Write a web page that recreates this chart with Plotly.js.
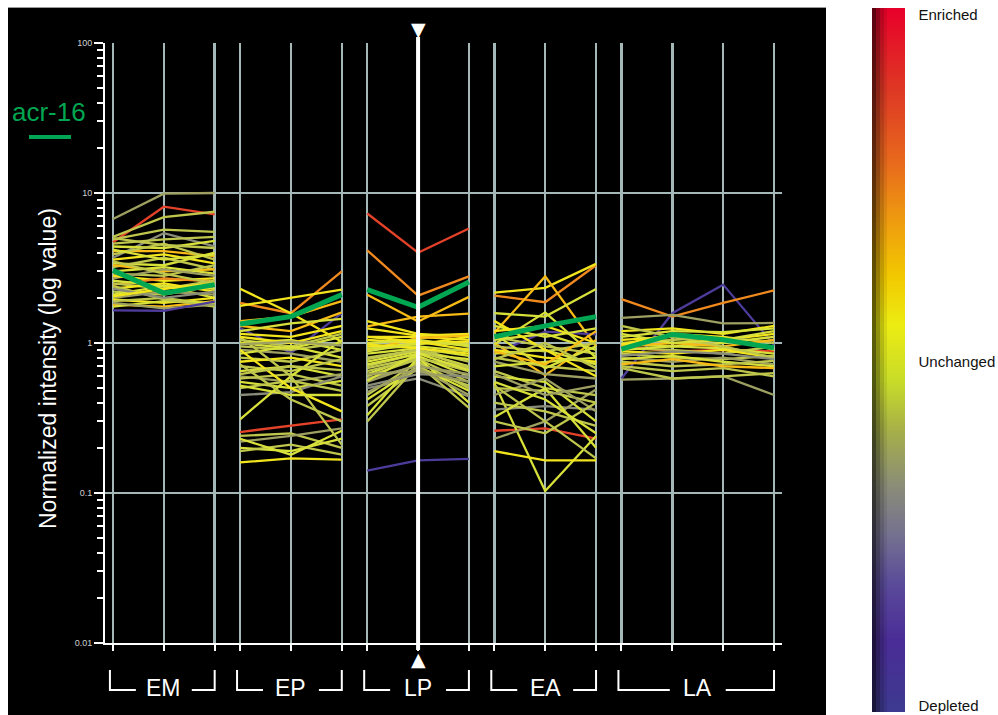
<!DOCTYPE html>
<html><head><meta charset="utf-8">
<script src="https://cdn.plot.ly/plotly-3.0.1.min.js"></script>
<style>body{margin:0;background:#fff}#chart{width:998px;height:715px}</style>
</head><body><div id="chart"></div>
<script>
// ---------- DATA ----------
const groups = ['EM', 'EP', 'LP', 'EA', 'LA'];
const groupX = [[0, 1, 2], [2.5, 3.5, 4.5], [5, 6, 7], [7.5, 8.5, 9.5], [10, 11, 12, 13]];
const yTickVals = [0.01, 0.1, 1, 10, 100];
const yTickText = ['0.01', '0.1', '1', '10', '100'];

const EM_values = [
  [6.7, 9.9, 10.0], [4.7, 8.1, 7.2], [5.1, 6.9, 7.5], [4.9, 5.7, 5.5], [3.7, 5.4, 4.4],
  [4.6, 4.9, 5.1], [4.1, 4.1, 3.8], [4.4, 4.3, 4.8], [3.9, 4.6, 3.6], [3.6, 3.9, 3.4],
  [3.4, 3.3, 4.0], [3.2, 3.7, 3.1], [3.3, 3.0, 3.1], [3.0, 3.2, 2.9], [2.9, 2.8, 3.3],
  [2.7, 3.1, 2.8], [2.8, 2.6, 2.7], [2.45, 2.7, 2.57], [2.6, 2.4, 2.3], [2.5, 2.3, 2.6],
  [2.3, 2.5, 2.2], [2.2, 2.1, 2.4], [2.1, 2.4, 2.0], [2.0, 2.2, 2.1], [1.95, 1.85, 2.0],
  [1.9, 2.0, 1.8], [1.8, 1.75, 1.9], [1.75, 1.9, 1.85], [2.4, 1.95, 1.75], [1.85, 1.7, 1.8],
  [1.65, 1.64, 1.89], [3.5, 2.9, 2.5], [4.2, 3.6, 3.9], [2.3, 2.0, 2.2], [2.05, 2.3, 2.5],
  [5.0, 4.5, 4.3]
];
const EM_colors = ['K','R','G','G','N','G','A','L','G','Y','L','G','A','L','G','K','Y','O','L','G',
  'Y','G','L','K','Y','G','A','L','G','K','P','G','L','N','Y','G'];

const EP_values = [
  [1.85, 1.58, 3.0], [2.3, 1.58, 1.02], [1.77, 2.0, 2.27], [1.26, 0.86, 1.58], [1.4, 1.5, 1.9],
  [1.3, 1.2, 1.6], [1.2, 1.35, 1.45], [1.15, 1.1, 1.3], [1.05, 0.95, 1.15], [1.0, 1.05, 0.9],
  [0.95, 0.9, 1.0], [0.9, 0.85, 0.75], [0.85, 0.95, 0.8], [0.8, 0.75, 0.9], [0.75, 0.8, 0.7],
  [0.7, 0.65, 0.78], [0.65, 0.7, 0.6], [0.6, 0.55, 0.62], [0.58, 0.62, 0.52], [0.55, 0.5, 0.56],
  [0.45, 0.47, 0.6], [0.5, 0.56, 0.48], [0.31, 0.6, 1.05], [0.255, 0.28, 0.31], [0.16, 0.17, 0.167],
  [0.24, 0.25, 0.2], [0.22, 0.24, 0.27], [0.2, 0.19, 0.23], [0.19, 0.21, 0.18], [0.23, 0.18, 0.26],
  [1.1, 0.6, 0.21], [0.9, 0.5, 0.35], [0.52, 0.45, 0.45], [0.62, 0.7, 0.66], [1.0, 0.92, 1.1],
  [0.72, 0.42, 0.3], [1.1, 1.0, 1.2], [0.98, 1.02, 0.96]
];
const EP_colors = ['O','Y','Y','P','A','A','L','Y','G','L','G','K','L','G','Y','G','L','K','G','L',
  'N','G','L','R','Y','G','K','L','G','L','G','Y','L','G','L','G','Y','K'];

const LP_values = [
  [7.3, 4.0, 5.8], [4.15, 2.07, 2.78], [2.1, 1.39, 2.03], [1.29, 1.5, 1.57], [0.141, 0.165, 0.169],
  [1.4, 1.15, 1.1], [1.25, 1.12, 1.15], [1.1, 1.1, 1.05], [0.9, 1.08, 1.12], [1.05, 1.0, 1.02],
  [1.0, 1.05, 0.95], [0.95, 0.98, 1.1], [0.92, 0.95, 0.88], [0.85, 0.92, 0.82], [0.8, 0.9, 0.75],
  [0.75, 0.88, 0.7], [0.7, 0.85, 0.92], [0.68, 0.8, 0.65], [0.62, 0.82, 0.6], [0.6, 0.78, 0.55],
  [0.55, 0.72, 0.58], [0.5, 0.58, 0.44], [0.45, 0.75, 0.5], [0.42, 0.7, 0.48], [0.38, 0.68, 0.52],
  [0.33, 0.8, 0.4], [0.3, 0.72, 0.37], [0.58, 0.7, 0.62], [0.52, 0.62, 0.6], [0.72, 0.85, 0.78],
  [0.98, 0.92, 0.85], [0.65, 0.78, 0.7], [0.47, 0.68, 0.45], [0.88, 1.0, 0.98], [1.1, 1.02, 0.9],
  [0.78, 0.9, 0.68], [0.56, 0.85, 0.66], [0.62, 0.65, 0.55]
];
const LP_colors = ['R','O','A','A','P','Y','Y','Y','A','Y','L','Y','L','L','G','L','G','G','L','G',
  'K','N','G','L','G','L','G','K','N','L','Y','G','K','L','Y','G','L','K'];

const EA_values = [
  [2.07, 1.87, 3.3], [2.17, 2.33, 3.37], [1.17, 2.78, 0.95], [1.58, 1.5, 2.29], [0.85, 1.19, 1.14],
  [0.26, 0.27, 0.23], [0.54, 0.103, 0.24], [0.19, 0.165, 0.165], [1.0, 0.61, 1.05], [0.36, 0.38, 0.36],
  [0.23, 0.3, 0.49], [1.3, 1.1, 1.25], [1.2, 1.3, 1.0], [1.1, 0.95, 0.85], [1.05, 1.15, 0.9],
  [0.95, 0.88, 1.0], [0.9, 0.8, 0.75], [0.85, 0.9, 0.72], [0.8, 0.7, 0.65], [0.75, 0.62, 0.58],
  [0.7, 0.75, 0.8], [0.65, 0.5, 0.45], [0.6, 0.55, 0.3], [0.5, 0.48, 0.4], [0.45, 0.58, 0.35],
  [0.4, 0.35, 0.28], [0.32, 0.5, 0.2], [0.52, 0.3, 0.17], [1.4, 0.9, 0.6], [0.98, 1.6, 0.8],
  [0.3, 0.25, 0.4], [0.62, 0.45, 0.52], [1.15, 0.68, 0.95], [0.88, 0.72, 1.2], [0.78, 1.0, 0.68],
  [0.55, 0.42, 0.25]
];
const EA_colors = ['O','Y','A','L','P','R','L','Y','A','N','K','L','Y','G','L','G','Y','L','G','K',
  'L','G','L','G','K','G','L','G','Y','L','G','K','L','A','G','L'];

const LA_values = [
  [0.58, 1.58, 2.45, 0.97], [1.96, 1.5, 1.85, 2.24], [1.47, 1.54, 1.35, 1.36], [0.57, 0.58, 0.6, 0.45],
  [0.68, 0.58, 0.6, 0.63], [0.95, 0.88, 0.9, 0.88], [1.2, 1.25, 1.15, 1.3], [1.1, 1.2, 1.18, 1.25],
  [1.05, 1.1, 1.05, 1.15], [1.0, 1.05, 1.1, 1.0], [0.98, 0.95, 1.0, 1.1], [0.95, 1.0, 0.95, 1.05],
  [0.92, 0.9, 0.85, 0.95], [0.9, 0.95, 0.92, 0.85], [0.88, 0.85, 0.9, 0.8], [0.85, 0.8, 0.78, 0.82],
  [0.8, 0.75, 0.8, 0.72], [0.78, 0.82, 0.75, 0.7], [0.75, 0.7, 0.72, 0.76], [0.72, 0.78, 0.7, 0.68],
  [1.3, 1.1, 0.95, 0.8], [1.15, 1.0, 1.05, 1.2], [0.98, 1.15, 1.1, 0.9], [0.7, 0.65, 0.68, 0.6],
  [0.82, 0.88, 0.85, 0.78]
];
const LA_colors = ['P','O','K','K','G','R','Y','L','Y','G','L','A','G','L','Y','G','K','L','G','A',
  'G','L','Y','G','N'];

const acr16_values = [[3.05, 2.15, 2.45], [1.34, 1.5, 2.1], [2.27, 1.73, 2.55], [1.1, 1.3, 1.5], [0.91, 1.14, 1.05, 0.93]];
const highlightName = 'acr-16';
const colorLabels = ['Depleted', 'Unchanged', 'Enriched'];
const colorLabelVals = [0.009, 0.497, 0.991];

// ---------- STYLE ----------
const palette = {R:'#e5422a', O:'#f08a1e', A:'#f8bb16', Y:'#f3e51c', L:'#d8e03a', G:'#bfc64c',
                 K:'#9ea062', N:'#8a8c7a', P:'#4e3c9c'};
const colorscale = [[0,'#3d3a8f'],[0.1,'#4a2c96'],[0.18,'#5a4a9a'],[0.25,'#747090'],[0.32,'#8a8c78'],
  [0.4,'#a6b048'],[0.47,'#c8dc28'],[0.55,'#ecec12'],[0.62,'#f2c800'],[0.7,'#ee9a10'],
  [0.78,'#e86a1c'],[0.88,'#de3a24'],[1,'#e8002a']];
const green = '#00a651';
const gridColor = '#a5b8b8';

// geometry helpers (plot area: x 105..782, y 43..643)
const L = 105, R = 782, T = 43, B = 643;
const px = v => (v - L) / (R - L);
const py = v => (B - v) / (B - T);

const allVals = [EM_values, EP_values, LP_values, EA_values, LA_values];
const allCols = [EM_colors, EP_colors, LP_colors, EA_colors, LA_colors];

const traces = [];
allVals.forEach((set, g) => {
  set.forEach((vals, i) => {
    traces.push({type:'scatter', mode:'lines', x: groupX[g], y: vals,
      line:{color: palette[allCols[g][i]], width: 2.3}, hoverinfo:'skip', showlegend:false});
  });
});
acr16_values.forEach((vals, g) => {
  traces.push({type:'scatter', mode:'lines', x: groupX[g], y: vals, name: highlightName,
    line:{color: green, width: 5}, hoverinfo:'skip', showlegend:false});
});
// colour bar carrier
traces.push({type:'scatter', mode:'markers', x:[-50,-50], y:[1,1], hoverinfo:'skip', showlegend:false,
  marker:{color:[0,1], cmin:0, cmax:1, colorscale: colorscale, showscale:true, size:1,
    colorbar:{xref:'paper', yref:'paper', x:px(872), xanchor:'left', y:py(712), yanchor:'bottom',
      lenmode:'pixels', len:704, thicknessmode:'pixels', thickness:33, outlinewidth:0, xpad:0, ypad:0,
      tickmode:'array', tickvals: colorLabelVals, ticktext: colorLabels, ticks:'outside', ticklen:11,
      tickcolor:'rgba(0,0,0,0)', tickfont:{size:15, color:'#111', family:'Liberation Sans, Arial, sans-serif'}}}});

const minorVals = [];
[0.01, 0.1, 1, 10].forEach(d => { for (let k = 2; k <= 9; k++) minorVals.push(+(d * k).toPrecision(3)); });
const allX = [].concat(...groupX);

const shapes = [
  {type:'rect', xref:'paper', yref:'paper', x0:px(8), x1:px(826), y0:py(715), y1:py(8), fillcolor:'#000', line:{width:0}, layer:'below'},
  {type:'line', xref:'paper', yref:'paper', x0:px(8), x1:px(826), y0:py(7.5), y1:py(7.5), line:{color:'#9a9a9a', width:1}},
  {type:'line', xref:'x', yref:'paper', x0:6, x1:6, y0:py(650), y1:py(37), line:{color:'#fff', width:4}},
  {type:'line', xref:'paper', yref:'paper', x0:px(29), x1:px(71), y0:py(137), y1:py(137), line:{color:green, width:4}}
];
const C = {xanchor:'center', yanchor:'middle', showarrow:false};
const annotations = [
  Object.assign({xref:'x', yref:'paper', x:6, y:py(29), text:'▼', font:{size:19, color:'#fff', family:'DejaVu Sans'}}, C),
  Object.assign({xref:'x', yref:'paper', x:6, y:py(659), text:'▲', font:{size:19, color:'#fff', family:'DejaVu Sans'}}, C),
  Object.assign({xref:'paper', yref:'paper', x:px(49), y:py(112), text:highlightName, font:{size:26, color:green}}, C),
  Object.assign({xref:'paper', yref:'paper', x:px(48), y:py(369), text:'Normalized intensity (log value)', textangle:-90, font:{size:23, color:'#fff'}}, C)
];
// soft dark shading along the colour bar's left edge
[[872, 4, 0.6], [876, 4, 0.38], [880, 4, 0.2], [884, 3, 0.08]].forEach(([x0, w, a]) => {
  annotations.push({xref:'paper', yref:'paper', x:px(x0), y:py(360), xanchor:'left', yanchor:'middle',
    text:' ', width:w, height:704, borderpad:0, borderwidth:0, bgcolor:`rgba(0,0,0,${a})`, showarrow:false, font:{size:1}});
});
const yTop = py(670), yBot = py(690);
groups.forEach((gname, g) => {
  const xs = groupX[g];
  const a = xs[0] - 0.06, b = xs[xs.length - 1], c = (xs[0] + xs[xs.length - 1]) / 2;
  const lw = {color:'#fff', width:2};
  shapes.push({type:'path', xref:'x', yref:'paper',
    path:`M ${a} ${yTop} L ${a} ${yBot} L ${c - 0.55} ${yBot}`, line:lw});
  shapes.push({type:'path', xref:'x', yref:'paper',
    path:`M ${c + 0.55} ${yBot} L ${b} ${yBot} L ${b} ${yTop}`, line:lw});
  annotations.push(Object.assign({xref:'x', yref:'paper', x:c, y:py(688), text:gname,
    font:{size:23, color:'#fff', family:'Liberation Sans Narrow, Arial Narrow, Liberation Sans, sans-serif'}}, C));
});

const layout = {
  width:998, height:715, margin:{l:L, r:998 - R, t:T, b:715 - B, autoexpand:false},
  paper_bgcolor:'#fff', plot_bgcolor:'#000',
  font:{family:'Liberation Sans, Arial, sans-serif'},
  showlegend:false,
  xaxis:{range:[-0.157, 13.157], tickmode:'array', tickvals: allX, ticks:'outside', ticklen:6, tickwidth:2,
    tickcolor:'#fff', showticklabels:false, showgrid:true, gridcolor:gridColor, gridwidth:2.5,
    zeroline:false, showline:true, linecolor:'#fff', linewidth:2, fixedrange:true, automargin:false},
  yaxis:{type:'log', range:[-2, 2], tickmode:'array', tickvals:yTickVals, ticktext:yTickText, ticks:'outside',
    ticklen:9, tickwidth:2, tickcolor:'#fff', showgrid:true, gridcolor:gridColor, gridwidth:2.5,
    showline:true, linecolor:'#fff', linewidth:2, zeroline:false, fixedrange:true, automargin:false,
    tickfont:{size:9, color:'#d0d0d0'},
    minor:{tickmode:'array', tickvals:minorVals, ticks:'outside', ticklen:6, tickwidth:2, tickcolor:'#fff', showgrid:false}},
  shapes: shapes, annotations: annotations
};
Plotly.newPlot('chart', traces, layout, {displayModeBar:false, staticPlot:true});
</script></body></html>
